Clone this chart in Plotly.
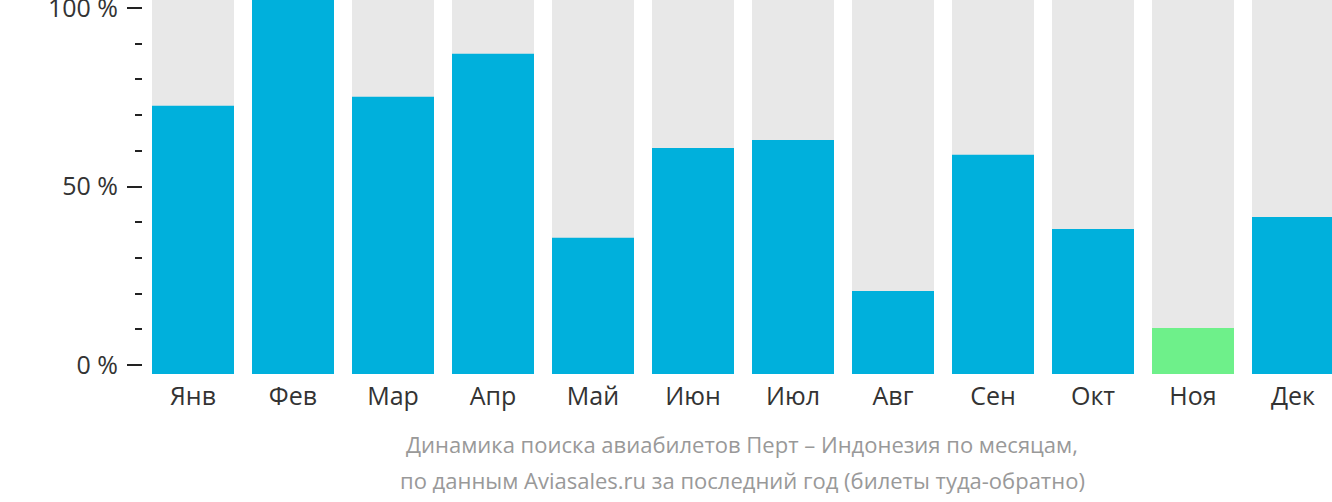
import plotly.graph_objects as go

months = ["Янв", "Фев", "Мар", "Апр", "Май", "Июн", "Июл", "Авг", "Сен", "Окт", "Ноя", "Дек"]
values = [71.7, 100, 74.1, 85.6, 36.4, 60.4, 62.6, 22.2, 58.6, 38.8, 12.3, 42.0]
highlight = "Ноя"
tick_vals = [0, 50, 100]
tick_text = ["0 %", "50 %", "100 %"]
subtitle_lines = ["Динамика поиска авиабилетов Перт – Индонезия по месяцам,",
                  "по данным Aviasales.ru за последний год (билеты туда-обратно)"]

BLUE = "#00b0dc"
GREEN = "#6ef08a"
GRAY = "#e8e8e8"
FONT = "Open Sans"

xs = list(range(len(months)))
colors = [GREEN if m == highlight else BLUE for m in months]

fig = go.Figure()
fig.add_trace(go.Bar(x=xs, y=[100] * len(months), marker=dict(color=GRAY, line_width=0),
                     width=0.82, hoverinfo="skip", showlegend=False))
fig.add_trace(go.Bar(x=xs, y=values, marker=dict(color=colors, line_width=0),
                     width=0.82, showlegend=False))
# invisible trace for the tick axis
fig.add_trace(go.Scatter(x=[0, 0], y=[0, 100], yaxis="y2", mode="markers",
                         marker=dict(opacity=0), hoverinfo="skip", showlegend=False))

H = 374.0
fig.update_layout(
    width=1332, height=502,
    margin=dict(l=143, r=0, t=0, b=128),
    plot_bgcolor="rgba(0,0,0,0)", paper_bgcolor="white",
    barmode="overlay",
    font=dict(family=FONT, color="#333333"),
    xaxis=dict(range=[-0.5, 11.39], tickvals=xs, ticktext=months, showgrid=False,
               zeroline=False, showline=False, ticks="", ticklabelstandoff=5,
               automargin=False,
               tickfont=dict(size=25, color="#333333", family=FONT), fixedrange=True),
    yaxis=dict(range=[0, 100], visible=False, fixedrange=True, automargin=False),
    yaxis2=dict(domain=[(H - 365) / H, (H - 8) / H], range=[0, 100], anchor="x",
                tickvals=tick_vals, ticktext=tick_text, ticks="outside", ticklen=15,
                tickwidth=2, tickcolor="#222222", showgrid=False, zeroline=False,
                showline=False, ticklabelstandoff=4, ticklabeloverflow="allow",
                automargin=False,
                tickfont=dict(size=25, color="#333333", family=FONT),
                minor=dict(tickvals=[10, 20, 30, 40, 60, 70, 80, 90], ticks="outside",
                           ticklen=7, tickwidth=2, tickcolor="#222222", showgrid=False),
                fixedrange=True),
)

for i, (line, ypx) in enumerate(zip(subtitle_lines, [444, 480])):
    fig.add_annotation(text=line, xref="paper", yref="paper",
                       x=(742 - 143) / 1189, y=(H - ypx) / H,
                       xanchor="center", yanchor="middle", showarrow=False,
                       font=dict(size=22, color="#999999", family=FONT))

fig.write_html("out.html")
